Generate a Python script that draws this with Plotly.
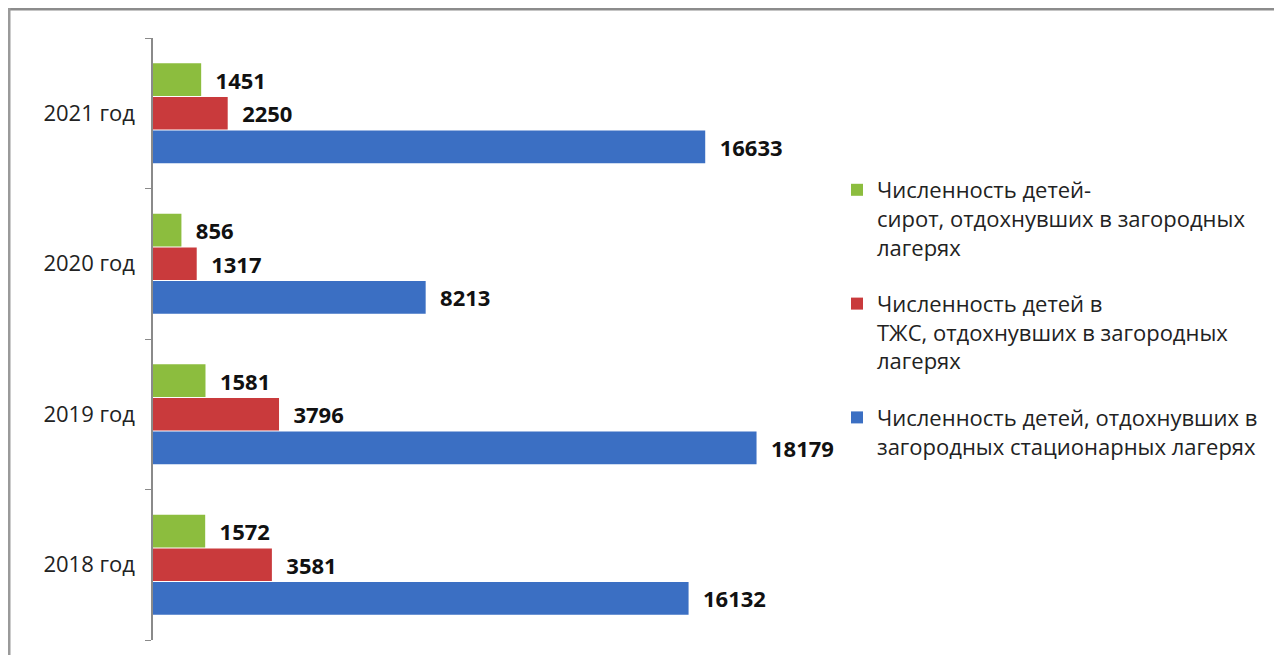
import plotly.graph_objects as go

categories = ["2018 год", "2019 год", "2020 год", "2021 год"]
orphans = [1572, 1581, 856, 1451]
tzhs = [3581, 3796, 1317, 2250]
total = [16132, 18179, 8213, 16633]

names = [
    "Численность детей, отдохнувших в<br>загородных стационарных лагерях",
    "Численность детей в<br>ТЖС, отдохнувших в загородных<br>лагерях",
    "Численность детей-<br>сирот, отдохнувших в загородных<br>лагерях",
]
colors = ["#3b6fc3", "#c93a3c", "#8cbd3e"]
series = [total, tzhs, orphans]
ranks = [3, 2, 1]

fig = go.Figure()
for i, (name, vals, col) in enumerate(zip(names, series, colors)):
    fig.add_trace(go.Bar(
        y=categories, x=vals, orientation="h", name=name,
        legendgroup=f"g{i}", legendrank=ranks[i],
        marker=dict(color=col, line=dict(width=0)),
        text=[str(v) for v in vals], texttemplate="\u00a0\u00a0%{text}", textposition="outside",
        textfont=dict(family="Open Sans", size=22, color="#111111", weight="bold"),
        constraintext="none", cliponaxis=False,
    ))

OFF = 8  # page body margin
W, H = 1282 - 2 * OFF, 663 - 2 * OFF
L, R_px, T, B_px = 153 - OFF, 817 - OFF, 38 - OFF, 640 - OFF
pw, ph = R_px - L, B_px - T

def px_x(p):
    return (p - OFF - L) / pw

def px_y(p):
    return (B_px - (p - OFF)) / ph

fig.update_layout(
    width=W, height=H,
    margin=dict(l=L, r=W - R_px, t=T, b=H - B_px, autoexpand=False),
    barmode="group", bargap=0.33, bargroupgap=0.03,
    paper_bgcolor="white", plot_bgcolor="white",
    font=dict(family="Open Sans", color="#222222"),
    legend=dict(
        x=px_x(837), y=px_y(169), xanchor="left", yanchor="top",
        traceorder="grouped", font=dict(size=22, color="#222222"),
        tracegroupgap=25, itemwidth=30, valign="top", bgcolor="rgba(0,0,0,0)",
    ),
    xaxis=dict(range=[0, 20000], showticklabels=False, showgrid=False,
               zeroline=False, showline=False, ticks=""),
    yaxis=dict(categoryorder="array", categoryarray=categories,
               showline=True, linecolor="#8a8a8a", linewidth=1.5,
               ticks="outside", tickson="boundaries", ticklen=6,
               tickcolor="#8a8a8a", showgrid=False, zeroline=False,
               tickfont=dict(size=22, color="#222222"),
               ticklabelstandoff=12),
    shapes=[
        dict(type="line", xref="paper", yref="paper",
             x0=px_x(8), x1=px_x(1290), y0=px_y(9), y1=px_y(9),
             line=dict(color="#8c8c8c", width=3)),
        dict(type="line", xref="paper", yref="paper",
             x0=px_x(9), x1=px_x(9), y0=px_y(8), y1=px_y(660),
             line=dict(color="#9a9a9a", width=3)),
    ],
)

fig.write_html("out.html")
